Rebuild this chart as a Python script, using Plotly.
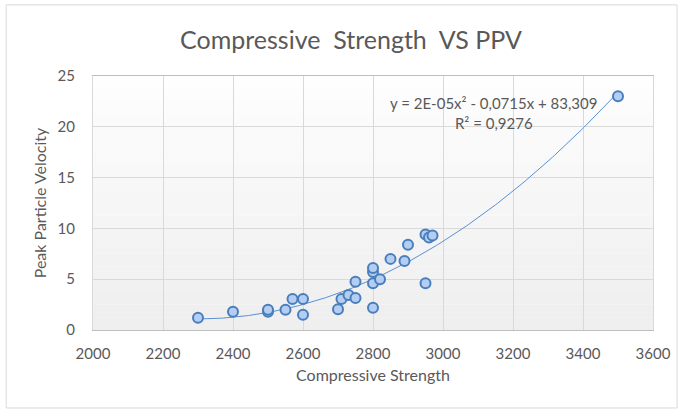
import numpy as np
import plotly.graph_objects as go

# Data
compressive_strength = [2300, 2400, 2500, 2500, 2550, 2570, 2600, 2600, 2700, 2710,
                        2730, 2750, 2750, 2800, 2800, 2800, 2800, 2820, 2850, 2890,
                        2900, 2950, 2950, 2960, 2970, 3500]
ppv = [1.2, 1.8, 1.8, 2.0, 2.0, 3.05, 3.05, 1.5, 2.05, 3.05,
       3.45, 3.15, 4.75, 2.2, 4.6, 5.7, 6.1, 5.0, 7.0, 6.8,
       8.4, 4.6, 9.4, 9.1, 9.3, 23.0]

x_ticks = [2000, 2200, 2400, 2600, 2800, 3000, 3200, 3400, 3600]
y_ticks = [0, 5, 10, 15, 20, 25]

equation_text = "y = 2E-05x² - 0,0715x + 83,309<br>R² = 0,9276"

# Polynomial (order 2) trendline fitted to the data
coef = np.polyfit(compressive_strength, ppv, 2)
xt = np.linspace(min(compressive_strength), max(compressive_strength), 200)
yt = np.polyval(coef, xt)

FONT = "Lato, 'Open Sans', sans-serif"
GRAY = "#595959"

fig = go.Figure()
fig.add_trace(go.Scatter(x=xt, y=yt, mode="lines",
                         line=dict(color="#5b8fd4", width=1), hoverinfo="skip",
                         showlegend=False))
fig.add_trace(go.Scatter(x=compressive_strength, y=ppv, mode="markers",
                         marker=dict(size=10, color="#b4cdf3",
                                     line=dict(color="#4a7ebb", width=2)),
                         showlegend=False))

# gradient-ish plot background
n = 20
for i in range(n):
    c = int(239 + 15 * i / (n - 1))
    fig.add_shape(type="rect", xref="paper", yref="paper", x0=0, x1=1,
                  y0=i / n, y1=(i + 1) / n, line=dict(width=0),
                  fillcolor=f"rgb({c},{c},{c})", layer="below")

# outer chart border
fig.add_shape(type="rect", xref="paper", yref="paper",
              x0=-0.155, x1=1.043, y0=-0.307, y1=1.28,
              line=dict(color="#d9d9d9", width=1))

fig.add_annotation(x=0.716, y=0.856, xref="paper", yref="paper",
                   text=equation_text, showarrow=False, align="center",
                   xanchor="center", yanchor="middle",
                   font=dict(family=FONT, size=15, color=GRAY))

fig.update_layout(
    width=683, height=413,
    margin=dict(l=93, r=30, t=76, b=83),
    paper_bgcolor="white", plot_bgcolor="white",
    title=dict(text="Compressive\u00a0 Strength\u00a0 VS PPV", x=351 / 683, xref="container",
               xanchor="center", y=1 - 40 / 413, yref="container", yanchor="middle",
               font=dict(family=FONT, size=25, color=GRAY)),
    xaxis=dict(range=[2000, 3600], tickvals=x_ticks, showgrid=True, gridcolor="#d9d9d9",
               zeroline=False, showline=True, linecolor="#bfbfbf", mirror=True,
               tickfont=dict(family=FONT, size=15, color=GRAY), ticks="", ticklabelstandoff=10,
               title=dict(text="Compressive Strength", standoff=8,
                          font=dict(family=FONT, size=16, color=GRAY))),
    yaxis=dict(range=[0, 25], tickvals=y_ticks, showgrid=True, gridcolor="#d9d9d9",
               zeroline=False, showline=True, linecolor="#d9d9d9", mirror=True,
               tickfont=dict(family=FONT, size=15, color=GRAY), ticks="", ticklabelstandoff=14,
               title=dict(text="Peak Particle Velocity", standoff=6,
                          font=dict(family=FONT, size=16, color=GRAY))),
)

fig.write_html("out.html", config={"displayModeBar": False},
               post_script="document.body.style.margin='0';document.body.style.overflow='hidden';")
